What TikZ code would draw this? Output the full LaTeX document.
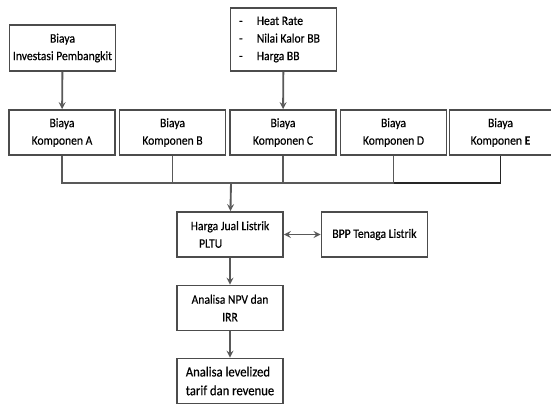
\documentclass[tikz,border=0pt]{standalone}
\usepackage{fontspec}
\setmainfont{Carlito}[FakeStretch=0.9, FakeBold=0.4]
\usetikzlibrary{positioning,calc}

\tikzset{
  kotak/.style={draw=black!70, line width=1.5pt, fill=white, align=center,
    minimum width=3.18cm, minimum height=1.35cm, inner sep=2pt,
    font=\fontsize{11}{15}\selectfont},
  panah/.style={->, draw=black!65, line width=1.6pt},
  garis/.style={draw=black!65, line width=1.6pt}
}

\begin{document}
\begin{tikzpicture}[x=0.03cm, y=-0.03cm, >=stealth]
\useasboundingbox (0,0) rectangle (551,407);
% baris atas
\node (inv) [kotak, minimum height=1.38cm] at (62.5,48) {Biaya\\Investasi Pembangkit};
\node (heat) [kotak, minimum height=1.89cm, align=left] at (283.5,39.5)
  {-\hspace{1.1em}Heat Rate\\-\hspace{1.1em}Nilai Kalor BB\\-\hspace{1.1em}Harga BB\hspace*{2.2em}};
% komponen biaya
\node (kA) [kotak] at (62,132.5) {Biaya\\Komponen A};
\node (kB) [kotak] at (172.5,132.5) {Biaya\\Komponen B};
\node (kC) [kotak] at (283,132.5) {Biaya\\Komponen C};
\node (kD) [kotak] at (393.5,132.5) {Biaya\\Komponen D};
\node (kE) [kotak, minimum width=3.06cm] at (500.5,132.5) {Biaya\\Komponen \textbf{E}};
\draw[panah] (inv) -- (kA);
\draw[panah] (heat) -- (kC);
% garis pengumpul
\coordinate (bus) at (231,183);
\draw[garis] (kA.south) -- (kA.south |- bus) -- (kD.south |- bus);
\draw[garis, draw=black!85] (kD.south |- bus) -- (kE.south |- bus) -- (kE.south);
\draw[garis] (kB.south) -- (kB.south |- bus);
\draw[garis] (kC.south) -- (kC.south |- bus);
\draw[garis] (kD.south) -- (kD.south |- bus);
% analisa
\node (harga) [kotak, minimum width=3.18cm] at (230,234.5) {Harga Jual Listrik\\PLTU\hspace*{3em}};
\node (bpp) [kotak, right=1.1cm of harga] {BPP Tenaga Listrik};
\node (npv) [kotak] at (230,308) {Analisa NPV dan\\IRR};
\node (lev) [kotak, align=left, font=\fontsize{12}{16}\selectfont] at (230,381)
  {Analisa levelized\\tarif dan revenue};
\draw[panah] (bus) -- (harga);
\draw[<->, draw=black!65, line width=1.6pt] (harga) -- (bpp);
\draw[panah] (harga) -- (npv);
\draw[panah] (npv) -- (lev);
\end{tikzpicture}
\end{document}
